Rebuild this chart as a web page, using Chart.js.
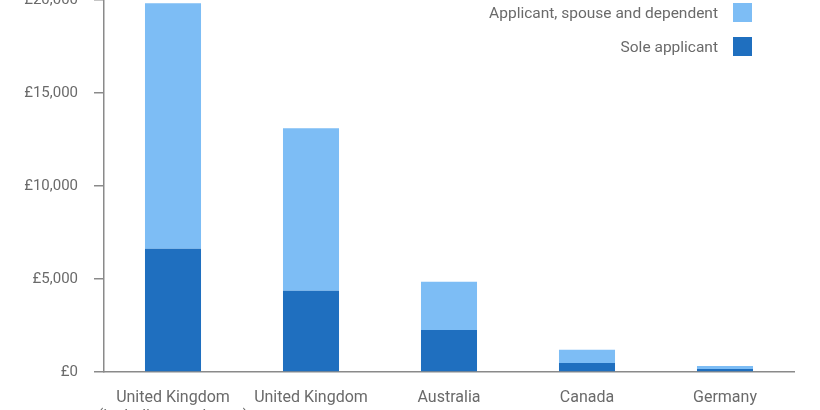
<!DOCTYPE html>
<html>
<head>
<meta charset="utf-8">
<script src="https://cdn.jsdelivr.net/npm/chart.js@4/dist/chart.umd.min.js"></script>
<style>
  html, body { margin: 0; padding: 0; background: #fff; overflow: hidden; width: 820px; height: 410px; }
  #wrap { position: absolute; left: 0; top: -20px; width: 820px; height: 450px; }
</style>
</head>
<body>
<div id="wrap"><canvas id="c" width="820" height="450"></canvas></div>
<script>
const categories = [
  ["United Kingdom", "(including surcharge)"],
  "United Kingdom",
  "Australia",
  "Canada",
  "Germany"
];
const soleApplicant = [6630, 4370, 2260, 490, 160];
const spouseAndDependent = [13200, 8730, 2590, 700, 160];
const yTicks = [0, 5000, 10000, 15000, 20000];

const TEXT = '#6a6a6a';
const AXIS = '#8a8a8a';
const FONT = { family: 'Roboto', size: 15, weight: '400' };
const XFONT = { family: 'Roboto', size: 16, weight: '400' };

const legendPlugin = {
  id: 'rightLegend',
  afterDraw(chart) {
    const ctx = chart.ctx;
    const ds = chart.data.datasets.slice().reverse();
    ctx.save();
    ctx.font = `400 15.5px Roboto`;
    ctx.textAlign = 'right';
    ctx.textBaseline = 'middle';
    ds.forEach((d, i) => {
      const y = 23 + i * 34;
      ctx.fillStyle = d.backgroundColor;
      ctx.fillRect(733, y, 19, 19);
      ctx.fillStyle = TEXT;
      ctx.fillText(d.label, 718, y + 11);
    });
    ctx.restore();
  }
};

new Chart(document.getElementById('c'), {
  type: 'bar',
  data: {
    labels: categories,
    datasets: [
      { label: 'Sole applicant', data: soleApplicant, backgroundColor: '#1f6fbf',
        categoryPercentage: 1, barPercentage: 0.406 },
      { label: 'Applicant, spouse and dependent', data: spouseAndDependent, backgroundColor: '#7dbdf5',
        categoryPercentage: 1, barPercentage: 0.406 }
    ]
  },
  options: {
    responsive: false,
    animation: false,
    devicePixelRatio: 1,
    layout: { padding: { top: 20, right: 26, bottom: 0, left: 0 } },
    plugins: { legend: { display: false }, tooltip: { enabled: false } },
    scales: {
      x: {
        stacked: true,
        grid: { display: false, drawTicks: false },
        border: { display: true, color: AXIS, width: 1.5 },
        ticks: { color: TEXT, font: XFONT, padding: 16, maxRotation: 0, autoSkip: false },
        afterFit(s) { s.height = 58; s.paddingLeft = 0; s.paddingRight = 0; }
      },
      y: {
        stacked: true,
        min: 0, max: 20000,
        afterBuildTicks(s) { s.ticks = yTicks.map(v => ({ value: v })); },
        grid: { drawOnChartArea: false, drawTicks: true, tickLength: 10, color: AXIS, lineWidth: 1.5 },
        border: { display: true, color: AXIS, width: 1.5 },
        ticks: {
          color: TEXT, font: FONT, padding: 16,
          callback: v => '£' + Number(v).toLocaleString('en-GB')
        },
        afterFit(s) { s.width = 104; s.paddingTop = 0; s.paddingBottom = 0; }
      }
    }
  },
  plugins: [legendPlugin]
});
</script>
</body>
</html>
